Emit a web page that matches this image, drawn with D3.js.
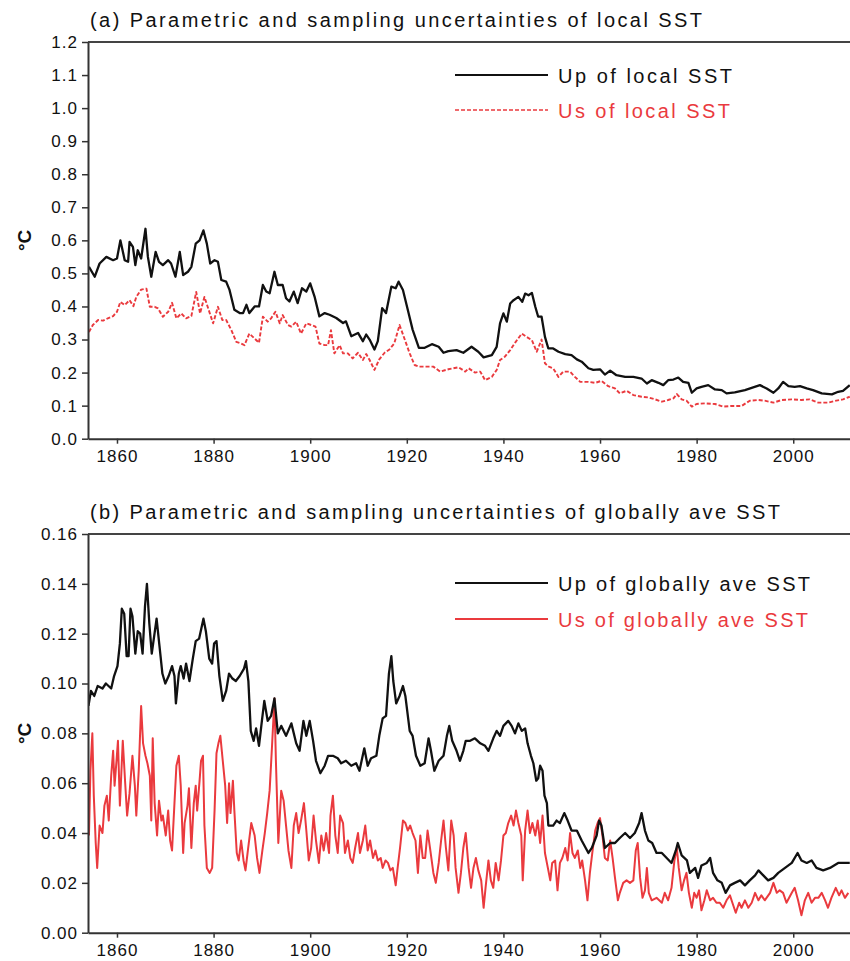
<!DOCTYPE html>
<html>
<head>
<meta charset="utf-8">
<script src="https://cdn.jsdelivr.net/npm/d3@7/dist/d3.min.js"></script>
<style>
  body { margin: 0; background: #fff; }
  svg text { font-family: "Liberation Sans", Arial, sans-serif; fill: #111; }
</style>
</head>
<body>
<div class="output"></div>
<script>
// ---- data ([year, value]) ----

// (a) parametric uncertainty of local SST
const upLocal = [[1854.2,0.52],[1855.4,0.49],[1856.4,0.53],[1857.8,0.55],[1859.2,0.54],[1860,0.545],[1860.7,0.60],[1861.6,0.54],[1862.3,0.535],[1862.6,0.595],[1863.3,0.58],[1863.8,0.525],[1864.3,0.57],[1865,0.545],[1865.9,0.635],[1866.4,0.55],[1867.1,0.49],[1868,0.565],[1868.7,0.535],[1869.5,0.525],[1870.6,0.54],[1871.2,0.53],[1872.1,0.49],[1873,0.565],[1873.7,0.495],[1874.7,0.505],[1875.4,0.52],[1876.3,0.59],[1877.1,0.60],[1877.9,0.63],[1878.6,0.59],[1879.3,0.53],[1880.2,0.54],[1880.9,0.535],[1881.6,0.48],[1882.6,0.475],[1883.3,0.45],[1884.3,0.39],[1885.4,0.38],[1886.1,0.38],[1886.8,0.405],[1887.4,0.38],[1888.5,0.40],[1889.4,0.40],[1890.2,0.465],[1890.9,0.445],[1891.6,0.44],[1892.6,0.505],[1893.3,0.465],[1894.3,0.465],[1895,0.425],[1895.7,0.415],[1896.6,0.445],[1897.4,0.41],[1898.3,0.455],[1899.2,0.445],[1900,0.47],[1900.9,0.43],[1901.9,0.37],[1903,0.38],[1904,0.375],[1905.4,0.365],[1906.8,0.35],[1907.4,0.355],[1908.5,0.31],[1909.9,0.32],[1910.9,0.295],[1911.6,0.315],[1912.3,0.30],[1913.3,0.27],[1914,0.295],[1914.9,0.395],[1915.7,0.38],[1916.8,0.46],[1917.7,0.455],[1918.3,0.475],[1919.2,0.45],[1920.2,0.39],[1921.2,0.33],[1922.5,0.275],[1923.7,0.275],[1925.2,0.286],[1926.6,0.278],[1927.6,0.26],[1928.6,0.265],[1930.3,0.268],[1931.7,0.26],[1933.4,0.278],[1934.8,0.263],[1935.9,0.246],[1937.6,0.253],[1938.6,0.278],[1939.3,0.349],[1940,0.379],[1940.7,0.354],[1941.4,0.409],[1942.1,0.419],[1943.1,0.429],[1943.9,0.414],[1944.5,0.439],[1945.2,0.434],[1945.9,0.441],[1946.6,0.399],[1947.2,0.369],[1947.9,0.369],[1948.6,0.308],[1949.3,0.273],[1950.3,0.273],[1951.4,0.263],[1952.8,0.256],[1954.1,0.253],[1955.2,0.24],[1956.2,0.233],[1957.6,0.213],[1958.6,0.208],[1960,0.21],[1961,0.194],[1962.1,0.206],[1963.4,0.192],[1965.2,0.187],[1966.9,0.187],[1968.6,0.182],[1969.7,0.167],[1970.7,0.177],[1972.1,0.169],[1973.1,0.162],[1974.1,0.177],[1975.2,0.179],[1976.2,0.185],[1977.2,0.172],[1978.3,0.169],[1979,0.139],[1980,0.152],[1981,0.157],[1982.4,0.162],[1983.8,0.149],[1985.2,0.147],[1986.2,0.137],[1987.9,0.14],[1990,0.147],[1991.7,0.155],[1993.1,0.162],[1994.5,0.152],[1995.9,0.139],[1996.9,0.152],[1997.9,0.172],[1999,0.159],[2000.3,0.157],[2001.4,0.159],[2002.8,0.152],[2004.1,0.147],[2005.9,0.137],[2008,0.134],[2009.3,0.142],[2010.3,0.145],[2011.7,0.162]];

// (a) sampling uncertainty of local SST
const usLocal = [[1854.2,0.323],[1855,0.344],[1856.1,0.359],[1857.1,0.357],[1858.1,0.364],[1859.2,0.371],[1860,0.384],[1860.7,0.414],[1861.6,0.404],[1862.6,0.419],[1863.4,0.401],[1864,0.429],[1865,0.451],[1866.1,0.454],[1866.8,0.399],[1867.8,0.399],[1868.5,0.394],[1869.5,0.369],[1870.6,0.384],[1871.4,0.411],[1872.3,0.364],[1873.3,0.379],[1874.3,0.364],[1875.4,0.371],[1876.4,0.444],[1877.2,0.379],[1878.1,0.429],[1879,0.389],[1879.9,0.349],[1880.9,0.399],[1881.8,0.359],[1882.6,0.359],[1883.7,0.328],[1884.7,0.293],[1885.7,0.288],[1886.4,0.283],[1887.4,0.318],[1888.5,0.303],[1889.4,0.29],[1890.2,0.369],[1891.2,0.354],[1891.9,0.364],[1892.8,0.384],[1893.7,0.349],[1894.3,0.374],[1895.4,0.344],[1896.1,0.339],[1897.1,0.354],[1898.1,0.318],[1899.2,0.349],[1900.2,0.344],[1901.1,0.339],[1901.9,0.288],[1903,0.283],[1903.7,0.283],[1904.3,0.328],[1905,0.258],[1906.1,0.283],[1906.8,0.258],[1907.8,0.258],[1908.8,0.243],[1909.9,0.26],[1910.9,0.238],[1911.6,0.256],[1912.3,0.238],[1913.3,0.208],[1914.3,0.24],[1915.4,0.26],[1916.4,0.27],[1917.4,0.288],[1918.5,0.344],[1919.5,0.303],[1920.6,0.258],[1921.6,0.223],[1922.6,0.218],[1923.7,0.218],[1925.5,0.218],[1926.9,0.203],[1928.6,0.21],[1930.7,0.216],[1932.1,0.203],[1932.8,0.213],[1934.1,0.2],[1935.2,0.203],[1936.2,0.177],[1937.6,0.187],[1938.6,0.208],[1939.3,0.238],[1940.3,0.248],[1941.4,0.268],[1942.4,0.29],[1943.8,0.318],[1944.8,0.308],[1945.9,0.298],[1946.9,0.263],[1947.9,0.30],[1948.6,0.228],[1949.4,0.218],[1950.3,0.213],[1951.4,0.187],[1952.4,0.203],[1953.8,0.203],[1954.8,0.187],[1955.9,0.172],[1957.6,0.172],[1959,0.169],[1960.3,0.175],[1961.7,0.159],[1963.1,0.152],[1964.1,0.137],[1965.5,0.145],[1966.9,0.132],[1968.6,0.127],[1970,0.125],[1971.4,0.119],[1972.8,0.112],[1974.1,0.117],[1975.2,0.122],[1975.9,0.135],[1976.9,0.119],[1977.9,0.115],[1979,0.097],[1980,0.105],[1981.7,0.107],[1983.8,0.105],[1985.5,0.097],[1987.2,0.099],[1989.3,0.099],[1991,0.115],[1992.8,0.117],[1994.1,0.115],[1995.9,0.109],[1997.6,0.117],[1999.7,0.119],[2001.7,0.117],[2003.4,0.119],[2005.2,0.109],[2007.2,0.109],[2008.9,0.115],[2010.3,0.119],[2011.7,0.127]];

// (b) parametric uncertainty of globally averaged SST
const upGlobal = [[1854.1,0.091],[1854.6,0.097],[1855.3,0.095],[1856,0.099],[1857,0.098],[1857.7,0.10],[1858.8,0.098],[1859.4,0.103],[1860.1,0.107],[1860.6,0.116],[1861,0.13],[1861.5,0.128],[1862,0.111],[1862.4,0.111],[1862.8,0.13],[1863.2,0.127],[1863.8,0.112],[1864.3,0.121],[1864.8,0.12],[1865.3,0.112],[1865.8,0.131],[1866.2,0.14],[1866.7,0.124],[1867.2,0.112],[1867.7,0.119],[1868.2,0.126],[1868.8,0.115],[1869.4,0.104],[1870,0.10],[1870.7,0.103],[1871.4,0.107],[1871.9,0.103],[1872.2,0.092],[1872.8,0.104],[1873.2,0.107],[1873.8,0.102],[1874.3,0.108],[1875,0.101],[1875.7,0.11],[1876.3,0.117],[1877,0.118],[1877.9,0.126],[1878.4,0.121],[1879.1,0.11],[1879.7,0.108],[1880.1,0.116],[1880.6,0.117],[1881.2,0.103],[1881.9,0.093],[1882.6,0.097],[1883.2,0.104],[1883.9,0.102],[1884.6,0.101],[1885.4,0.103],[1886.3,0.106],[1886.7,0.109],[1887.2,0.101],[1887.7,0.081],[1888.3,0.077],[1888.8,0.082],[1889.4,0.075],[1890,0.085],[1890.5,0.093],[1891.2,0.085],[1891.9,0.087],[1892.6,0.094],[1893.3,0.08],[1894,0.083],[1895,0.079],[1896.1,0.084],[1897.1,0.076],[1897.8,0.073],[1898.6,0.085],[1899.2,0.079],[1899.9,0.085],[1900.6,0.077],[1901.2,0.069],[1902.1,0.064],[1903,0.067],[1903.7,0.071],[1904.7,0.071],[1905.7,0.07],[1906.4,0.068],[1907.4,0.069],[1908.5,0.067],[1909.5,0.068],[1910.2,0.065],[1911.2,0.074],[1911.9,0.067],[1912.6,0.07],[1913.7,0.071],[1914.3,0.079],[1915,0.086],[1915.7,0.087],[1916.3,0.104],[1916.8,0.111],[1917.2,0.101],[1917.8,0.092],[1918.5,0.095],[1919.2,0.099],[1919.7,0.095],[1920.6,0.081],[1921.2,0.079],[1921.9,0.071],[1922.8,0.067],[1923.7,0.068],[1924.5,0.078],[1925,0.073],[1925.7,0.065],[1926.6,0.069],[1927.6,0.071],[1928.3,0.079],[1928.8,0.083],[1929.4,0.077],[1930.3,0.073],[1931,0.069],[1931.7,0.073],[1932.2,0.077],[1933.1,0.077],[1934.1,0.078],[1935.2,0.076],[1936.2,0.075],[1936.9,0.073],[1937.9,0.078],[1938.6,0.081],[1939.3,0.079],[1940,0.083],[1941,0.085],[1941.7,0.083],[1942.4,0.08],[1943.1,0.084],[1943.8,0.081],[1944.5,0.082],[1945,0.076],[1945.7,0.071],[1946.2,0.068],[1946.8,0.061],[1947.2,0.062],[1947.6,0.067],[1948.1,0.065],[1948.5,0.055],[1949,0.052],[1949.3,0.043],[1950.3,0.043],[1951,0.045],[1951.7,0.044],[1952.6,0.048],[1953.3,0.045],[1954.1,0.041],[1955.2,0.041],[1956.2,0.037],[1957.6,0.032],[1958.3,0.034],[1959.3,0.039],[1959.8,0.045],[1960.3,0.043],[1961,0.034],[1962.1,0.036],[1963.1,0.036],[1964.1,0.038],[1965.2,0.04],[1966.2,0.038],[1967.2,0.04],[1968.1,0.044],[1968.6,0.048],[1969.3,0.041],[1970,0.037],[1970.8,0.036],[1971.7,0.032],[1972.8,0.032],[1973.8,0.03],[1974.8,0.028],[1975.7,0.033],[1976.1,0.036],[1976.9,0.031],[1978,0.029],[1978.6,0.024],[1979.7,0.026],[1980.3,0.022],[1981,0.027],[1982.1,0.028],[1982.8,0.03],[1983.4,0.024],[1984.3,0.021],[1985.2,0.02],[1986,0.016],[1986.9,0.019],[1987.9,0.02],[1989,0.021],[1990,0.019],[1991,0.021],[1992.1,0.023],[1992.8,0.025],[1993.8,0.023],[1994.8,0.021],[1995.9,0.022],[1996.9,0.024],[1998.3,0.026],[1999.7,0.028],[2000.9,0.032],[2001.7,0.029],[2002.8,0.028],[2003.8,0.029],[2004.8,0.026],[2006.2,0.025],[2007.6,0.026],[2009.3,0.028],[2010.7,0.028],[2011.7,0.028]];

// (b) sampling uncertainty of globally averaged SST
const usGlobal = [[1854.2,0.039],[1854.5,0.065],[1854.9,0.08],[1855.2,0.055],[1855.6,0.036],[1855.9,0.026],[1856.4,0.043],[1857,0.04],[1857.4,0.051],[1857.9,0.055],[1858.3,0.045],[1858.8,0.063],[1859.2,0.073],[1859.5,0.059],[1859.9,0.069],[1860.2,0.077],[1860.6,0.051],[1860.9,0.064],[1861.2,0.077],[1861.7,0.06],[1862.1,0.047],[1862.6,0.056],[1863.2,0.071],[1863.7,0.059],[1864,0.047],[1864.5,0.065],[1865,0.091],[1865.4,0.076],[1865.9,0.071],[1866.3,0.068],[1866.8,0.063],[1867.1,0.045],[1867.4,0.078],[1867.8,0.052],[1868.3,0.039],[1868.7,0.053],[1869.2,0.045],[1869.5,0.047],[1870.1,0.039],[1870.6,0.049],[1871,0.037],[1871.4,0.033],[1871.9,0.052],[1872.3,0.067],[1872.8,0.071],[1873.2,0.059],[1873.7,0.032],[1874,0.044],[1874.6,0.051],[1874.9,0.058],[1875.4,0.034],[1875.9,0.052],[1876.3,0.059],[1876.6,0.049],[1877.1,0.061],[1877.4,0.069],[1877.8,0.071],[1878.1,0.043],[1878.6,0.026],[1879.2,0.024],[1879.7,0.026],[1880.2,0.049],[1880.6,0.072],[1881,0.076],[1881.4,0.079],[1881.9,0.069],[1882.4,0.059],[1882.8,0.044],[1883.2,0.06],[1883.5,0.048],[1884,0.061],[1884.3,0.049],[1884.8,0.032],[1885.2,0.029],[1885.7,0.037],[1886.2,0.029],[1886.6,0.025],[1887.1,0.033],[1887.8,0.044],[1888.5,0.039],[1889,0.03],[1889.5,0.024],[1890.1,0.033],[1890.6,0.04],[1891.1,0.048],[1891.6,0.057],[1892.1,0.075],[1892.6,0.094],[1892.9,0.069],[1893.4,0.036],[1894,0.057],[1894.5,0.053],[1895,0.043],[1895.5,0.033],[1896.1,0.026],[1896.6,0.043],[1897.1,0.048],[1897.6,0.04],[1898.1,0.045],[1898.7,0.052],[1899.2,0.041],[1899.7,0.029],[1900.2,0.034],[1900.7,0.047],[1901.2,0.037],[1901.8,0.028],[1902.3,0.039],[1902.8,0.033],[1903.3,0.04],[1903.9,0.032],[1904.2,0.047],[1904.7,0.055],[1905.2,0.039],[1905.7,0.032],[1906.2,0.047],[1906.8,0.044],[1907.2,0.032],[1907.8,0.037],[1908.3,0.03],[1908.8,0.028],[1909.3,0.034],[1909.9,0.04],[1910.3,0.032],[1910.9,0.037],[1911.4,0.043],[1911.9,0.033],[1912.4,0.037],[1913,0.03],[1913.5,0.033],[1914,0.029],[1914.6,0.03],[1915,0.026],[1915.6,0.029],[1916.1,0.028],[1916.6,0.025],[1917.1,0.026],[1917.7,0.019],[1918.1,0.026],[1918.6,0.034],[1919.2,0.045],[1919.7,0.044],[1920.2,0.041],[1920.7,0.043],[1921.2,0.04],[1921.8,0.037],[1922.3,0.024],[1922.8,0.039],[1923.3,0.03],[1923.8,0.03],[1924.3,0.041],[1924.8,0.034],[1925.5,0.024],[1926,0.02],[1926.6,0.028],[1927.1,0.037],[1927.6,0.045],[1928.1,0.034],[1928.6,0.025],[1929.2,0.045],[1929.7,0.039],[1930.1,0.026],[1930.7,0.016],[1931.2,0.024],[1931.7,0.034],[1932.2,0.04],[1932.8,0.026],[1933.3,0.018],[1933.8,0.026],[1934.3,0.03],[1934.8,0.025],[1935.4,0.021],[1935.9,0.01],[1936.3,0.018],[1936.9,0.029],[1937.4,0.021],[1937.9,0.018],[1938.4,0.028],[1939,0.021],[1939.5,0.029],[1940,0.039],[1940.5,0.04],[1941,0.044],[1941.6,0.047],[1942.1,0.043],[1942.6,0.049],[1943.1,0.044],[1943.7,0.039],[1944,0.021],[1944.5,0.041],[1945,0.049],[1945.5,0.04],[1946,0.044],[1946.6,0.039],[1947.1,0.045],[1947.6,0.036],[1948.1,0.047],[1948.6,0.032],[1949.2,0.026],[1949.7,0.021],[1950.1,0.028],[1950.7,0.029],[1951.2,0.017],[1951.7,0.028],[1952.2,0.03],[1952.8,0.034],[1953.3,0.029],[1953.8,0.04],[1954.3,0.032],[1954.8,0.03],[1955.4,0.033],[1955.9,0.026],[1956.3,0.029],[1956.9,0.021],[1957.4,0.013],[1957.9,0.024],[1958.4,0.032],[1959,0.041],[1959.5,0.044],[1960,0.046],[1960.5,0.039],[1961,0.03],[1961.6,0.029],[1962.1,0.037],[1962.6,0.03],[1963.1,0.022],[1963.7,0.013],[1964.1,0.016],[1964.8,0.02],[1965.5,0.021],[1966.2,0.02],[1966.9,0.021],[1967.4,0.033],[1967.8,0.036],[1968.3,0.022],[1968.8,0.014],[1969.3,0.017],[1969.7,0.026],[1970.1,0.016],[1970.7,0.013],[1971.7,0.014],[1972.8,0.012],[1973.4,0.016],[1974.1,0.013],[1974.8,0.018],[1975.4,0.029],[1975.9,0.034],[1976.3,0.026],[1976.9,0.017],[1977.4,0.021],[1977.9,0.024],[1978.4,0.016],[1979,0.01],[1979.5,0.016],[1980,0.014],[1980.5,0.017],[1981,0.009],[1981.6,0.013],[1982.1,0.017],[1982.8,0.013],[1983.4,0.014],[1984.1,0.012],[1984.8,0.012],[1985.5,0.01],[1986.2,0.013],[1986.9,0.015],[1987.4,0.012],[1988.1,0.008],[1988.8,0.012],[1989.3,0.01],[1990,0.013],[1990.7,0.01],[1991.4,0.012],[1992.1,0.016],[1992.8,0.013],[1993.4,0.015],[1994.1,0.013],[1995.2,0.016],[1995.9,0.02],[1996.6,0.016],[1997.2,0.017],[1997.9,0.016],[1998.6,0.012],[1999.7,0.016],[2000.3,0.018],[2001,0.013],[2001.7,0.007],[2002.4,0.013],[2003.1,0.016],[2003.8,0.012],[2004.5,0.014],[2005.2,0.014],[2005.9,0.016],[2006.6,0.013],[2007.2,0.01],[2007.9,0.014],[2008.8,0.018],[2009.5,0.015],[2010,0.017],[2010.7,0.014],[2011.4,0.016]];

// axis ticks and labels
const yearTicks = [1860, 1880, 1900, 1920, 1940, 1960, 1980, 2000];
const localTicks = [0.0, 0.1, 0.2, 0.3, 0.4, 0.5, 0.6, 0.7, 0.8, 0.9, 1.0, 1.1, 1.2];
const globalTicks = [0.00, 0.02, 0.04, 0.06, 0.08, 0.10, 0.12, 0.14, 0.16];
const titles = [
    "(a) Parametric and sampling uncertainties of local SST",
    "(b) Parametric and sampling uncertainties of globally ave SST"
];
const legendLabels = [
    ["Up of local SST", "Us of local SST"],
    ["Up of globally ave SST", "Us of globally ave SST"]
];

// ---- drawing ----
const RED = "#ea3a3e";
const left = 88, right = 850;

let svg = d3.select(".output")
    .append("svg")
    .attr("width", 850)
    .attr("height", 961);

let x = d3.scaleLinear()
    .domain([1854, 2011.75])
    .range([left, right]);

let panels = [
    { id: "a", top: 42, bottom: 438.7, yDomain: [0, 1.2], ticks: localTicks, fmt: ".1f",
      title: titles[0], titleY: 27, titleLen: 612,
      labels: legendLabels[0], legY: [75, 110], legLen: [174, 172],
      series: [{ data: upLocal, color: "#111", width: 2.3, dash: null },
               { data: usLocal, color: RED, width: 1.9, dash: "4,2" }] },
    { id: "b", top: 534, bottom: 932.7, yDomain: [0, 0.16], ticks: globalTicks, fmt: ".2f",
      title: titles[1], titleY: 519, titleLen: 690,
      labels: legendLabels[1], legY: [583, 619], legLen: [252, 250],
      series: [{ data: upGlobal, color: "#111", width: 2.3, dash: null },
               { data: usGlobal, color: RED, width: 2, dash: null }] }
];

panels.forEach(function (p) {
    let y = d3.scaleLinear()
        .domain(p.yDomain)
        .range([p.bottom, p.top]);

    let g = svg.append("g");

    g.append("clipPath")
        .attr("id", "clip-" + p.id)
        .append("rect")
        .attr("x", left)
        .attr("y", p.top)
        .attr("width", right - left)
        .attr("height", p.bottom - p.top);

    // Линии
    let line = d3.line()
        .x((d) => x(d[0]))
        .y((d) => y(d[1]));

    // red first so black stays on top
    g.append("g")
        .attr("clip-path", "url(#clip-" + p.id + ")")
        .selectAll("path")
        .data(p.series.slice().reverse())
        .enter()
        .append("path")
        .attr("d", (d) => line(d.data))
        .attr("fill", "none")
        .attr("stroke", (d) => d.color)
        .attr("stroke-width", (d) => d.width)
        .attr("stroke-linejoin", "round")
        .attr("stroke-dasharray", (d) => d.dash);

    // top frame line
    g.append("line")
        .attr("x1", left).attr("x2", right)
        .attr("y1", p.top).attr("y2", p.top)
        .attr("stroke", "#444")
        .attr("stroke-width", 2);

    // Ось X
    let xAxis = g.append("g")
        .attr("transform", "translate(0," + p.bottom + ")")
        .call(d3.axisBottom(x)
            .tickValues(yearTicks)
            .tickFormat(d3.format("d"))
            .tickSize(5)
            .tickPadding(6)
            .tickSizeOuter(0));

    // Ось Y
    let yAxis = g.append("g")
        .attr("transform", "translate(" + left + ",0)")
        .call(d3.axisLeft(y)
            .tickValues(p.ticks)
            .tickFormat(d3.format(p.fmt))
            .tickSize(6)
            .tickPadding(4)
            .tickSizeOuter(0));

    [xAxis, yAxis].forEach(function (ax) {
        ax.select(".domain").attr("stroke", "#333").attr("stroke-width", 2);
        ax.selectAll(".tick line").attr("stroke", "#333").attr("stroke-width", 1.5);
        ax.selectAll(".tick text")
            .style("font-size", "17px")
            .style("letter-spacing", "1px")
            .attr("fill", "#111");
    });

    // unit label
    g.append("text")
        .text("°C")
        .attr("transform", "translate(24," + (p.top + p.bottom) / 2 + ") rotate(-90)")
        .attr("text-anchor", "middle")
        .attr("dominant-baseline", "central")
        .style("font-size", "19px")
        .style("font-weight", "bold");

    // title
    g.append("text")
        .text(p.title)
        .attr("x", 90)
        .attr("y", p.titleY)
        .attr("textLength", p.titleLen)
        .attr("lengthAdjust", "spacing")
        .style("font-size", "20px");

    // Легенда
    p.series.forEach(function (s, i) {
        g.append("line")
            .attr("x1", 455).attr("x2", 548)
            .attr("y1", p.legY[i]).attr("y2", p.legY[i])
            .attr("stroke", s.color)
            .attr("stroke-width", s.dash ? 1.5 : 2)
            .attr("stroke-dasharray", s.dash);
        g.append("text")
            .text(p.labels[i])
            .attr("x", 558)
            .attr("y", p.legY[i] + 7.5)
            .attr("textLength", p.legLen[i])
            .attr("lengthAdjust", "spacing")
            .style("font-size", "20px")
            .style("fill", s.color);
    });
});
</script>
</body>
</html>
